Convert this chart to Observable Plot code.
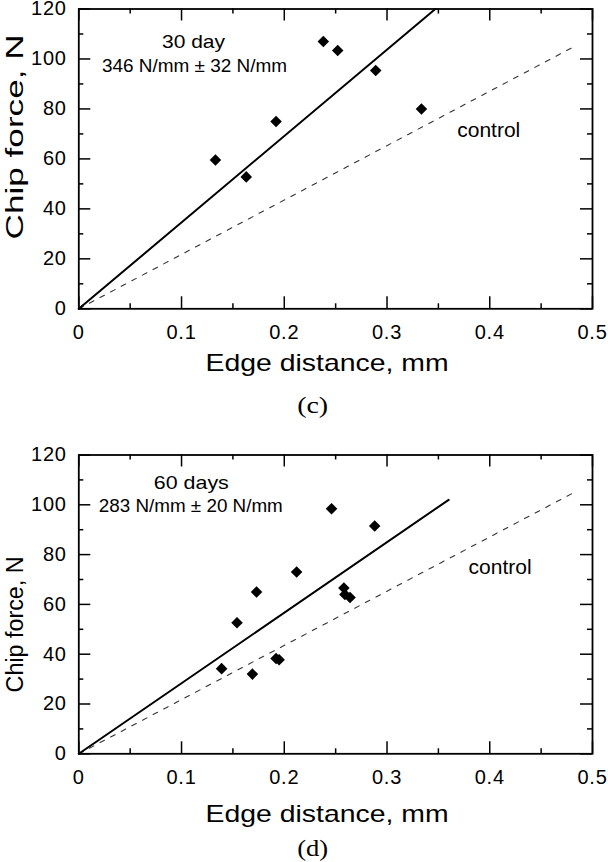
<!DOCTYPE html>
<html><head><meta charset="utf-8">
<script src="https://cdn.jsdelivr.net/npm/d3@7"></script>
<script src="https://cdn.jsdelivr.net/npm/@observablehq/plot@0.6"></script>
<style>
body{margin:0;background:#fff;}
#chart{width:608px;}
#chart svg{display:block;overflow:visible;}
</style></head><body><div id="chart"></div>
<script>
// Axis ticks and labels
const xMajor = [0, 0.1, 0.2, 0.3, 0.4, 0.5];
const xMinor = [0.05, 0.15, 0.25, 0.35, 0.45];
const yMajor = [0, 20, 40, 60, 80, 100, 120];
const yMinor = [10, 30, 50, 70, 90, 110];
const xTickLabels = ["0", "0.1", "0.2", "0.3", "0.4", "0.5"];
const yTickLabels = ["0", "20", "40", "60", "80", "100", "120"];

// Panel (c): 30 day
const day30X = [0.133, 0.163, 0.192, 0.238, 0.252, 0.289, 0.3335];
const day30Y = [59.6, 52.8, 75.0, 107.0, 103.4, 95.4, 80.0];
const fit30X = [0, 0.347];
const fit30Y = [0, 120];

// Panel (d): 60 days
const day60X = [0.139, 0.154, 0.169, 0.173, 0.192, 0.195, 0.212, 0.246, 0.258, 0.259, 0.264, 0.288];
const day60Y = [34.2, 52.6, 32.0, 65.0, 38.3, 37.8, 73.0, 98.4, 66.6, 64.0, 62.8, 91.5];
const fit60X = [0, 0.36];
const fit60Y = [0, 102];

// Control line (both panels)
const controlX = [0, 0.48];
const controlY = [0, 104.5];

const xTitle = "Edge distance, mm";
const yTitle = "Chip force, N";

const pts = (xs, ys) => xs.map((x, i) => ({x, y: ys[i]}));

function panel(cfg) {
  const W = 608, H = cfg.height;
  const mL = 78.3, mR = 16, mT = cfg.mT, mB = cfg.mB;
  const plotW = W - mL - mR, plotH = H - mT - mB;
  const major = 12, minor = 5;
  const sans = "Liberation Sans, Arial, Helvetica, sans-serif";
  const plot = Plot.plot({
    width: W, height: H,
    marginLeft: mL, marginRight: mR, marginTop: mT, marginBottom: mB,
    x: {domain: [0, 0.5]},
    y: {domain: [0, 120]},
    style: {fontFamily: sans, color: "black", background: "white", overflow: "visible"},
    marks: [
      Plot.line(pts(controlX, controlY), {x: "x", y: "y", stroke: "#333", strokeWidth: 1.1, strokeDasharray: "5,7"}),
      Plot.line(pts(cfg.fitX, cfg.fitY), {x: "x", y: "y", stroke: "black", strokeWidth: 2}),
      Plot.dot(pts(cfg.dataX, cfg.dataY), {x: "x", y: "y", symbol: "diamond2", r: 5.2, fill: "black", stroke: "none"}),
      // inward ticks, bottom & top
      Plot.tickX(xMajor, {x: d => d, insetTop: plotH - major, stroke: "black", strokeWidth: 1.5}),
      Plot.tickX(xMinor, {x: d => d, insetTop: plotH - minor, stroke: "black", strokeWidth: 1.5}),
      Plot.tickX(xMajor, {x: d => d, insetBottom: plotH - major, stroke: "black", strokeWidth: 1.5}),
      Plot.tickX(xMinor, {x: d => d, insetBottom: plotH - minor, stroke: "black", strokeWidth: 1.5}),
      // inward ticks, left & right
      Plot.tickY(yMajor, {y: d => d, insetRight: plotW - major, stroke: "black", strokeWidth: 1.5}),
      Plot.tickY(yMinor, {y: d => d, insetRight: plotW - minor, stroke: "black", strokeWidth: 1.5}),
      Plot.tickY(yMajor, {y: d => d, insetLeft: plotW - major, stroke: "black", strokeWidth: 1.5}),
      Plot.tickY(yMinor, {y: d => d, insetLeft: plotW - minor, stroke: "black", strokeWidth: 1.5}),
      Plot.frame({stroke: "black", strokeWidth: 1.8}),
      Plot.axisX(xMajor, {tickSize: 0, tickPadding: 16, fontSize: 20, label: null,
        tickFormat: d => xTickLabels[xMajor.indexOf(d)]}),
      Plot.axisY(yMajor, {tickSize: 0, tickPadding: 12, fontSize: 20, label: null,
        tickFormat: d => yTickLabels[yMajor.indexOf(d)]}),
      Plot.text([xTitle], {frameAnchor: "bottom", text: d => d, dx: -8.6, dy: cfg.xTitleDy, textAnchor: "middle", lineAnchor: "middle", fontSize: 24}),
      Plot.text([yTitle], {frameAnchor: "left", text: d => d, rotate: -90, dx: -63, dy: cfg.yTitleDy, textAnchor: "middle", lineAnchor: "middle", fontSize: 23}),
      Plot.text([cfg.caption], {frameAnchor: "bottom", text: d => d, dx: -23, dy: cfg.capDy, textAnchor: "middle", lineAnchor: "middle", fontSize: 24, fontFamily: "Liberation Serif, Times New Roman, serif"}),
      Plot.text([cfg.label1], {x: cfg.l1x, y: cfg.l1y, text: d => d, fontSize: 19, lineAnchor: "middle"}),
      Plot.text([cfg.label2], {x: cfg.l2x, y: cfg.l2y, text: d => d, fontSize: 18, lineAnchor: "middle"}),
      Plot.text(["control"], {x: cfg.cx, y: cfg.cy, text: d => d, fontSize: 20, lineAnchor: "middle"})
    ]
  });
  const lengths = new Map([
    [xTitle, 243], [yTitle, cfg.yTitleLen], [cfg.caption, 31],
    [cfg.label1, cfg.l1len], [cfg.label2, cfg.l2len], ["control", 63]
  ]);
  plot.querySelectorAll("text").forEach(t => {
    const s = t.textContent;
    if (lengths.has(s)) {
      t.setAttribute("textLength", lengths.get(s));
      t.setAttribute("lengthAdjust", "spacingAndGlyphs");
    }
  });
  plot.querySelectorAll('g[aria-label="x-axis tick label"] text, g[aria-label="y-axis tick label"] text')
    .forEach(t => t.style.letterSpacing = "0.8px");
  return plot;
}

const chart = document.getElementById("chart");
chart.appendChild(panel({
  height: 430, mT: 8.5, mB: 121.7,
  dataX: day30X, dataY: day30Y, fitX: fit30X, fitY: fit30Y,
  xTitleDy: 55, yTitleDy: -22, yTitleLen: 205, caption: "(c)", capDy: 97,
  label1: "30 day", l1x: 0.1116, l1y: 107, l1len: 63,
  label2: "346 N/mm \u00b1 32 N/mm", l2x: 0.1126, l2y: 96.9, l2len: 185,
  cx: 0.399, cy: 71.4
}));
chart.appendChild(panel({
  height: 432, mT: 24.5, mB: 108.7,
  dataX: day60X, dataY: day60Y, fitX: fit60X, fitY: fit60Y,
  xTitleDy: 61, yTitleDy: 20, yTitleLen: 136, caption: "(d)", capDy: 95,
  label1: "60 days", l1x: 0.1095, l1y: 108.8, l1len: 75,
  label2: "283 N/mm \u00b1 20 N/mm", l2x: 0.109, l2y: 99.3, l2len: 184,
  cx: 0.41, cy: 74.8
}));
</script></body></html>
